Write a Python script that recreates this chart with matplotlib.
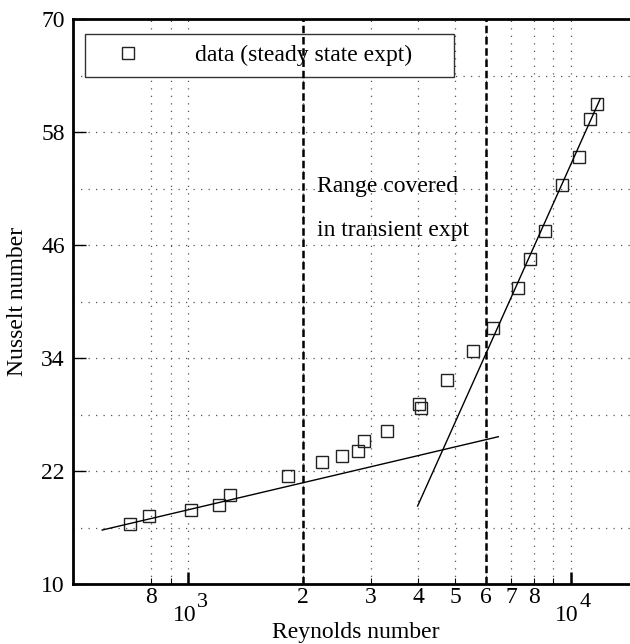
import numpy as np
import matplotlib
matplotlib.use("Agg")
import matplotlib.pyplot as plt

plt.rcParams['font.family'] = ['Liberation Serif', 'DejaVu Serif']

# ---- data ----
re_data = [703, 790, 1017, 1202, 1284, 1829, 2236, 2518, 2773, 2875, 3303,
           4012, 4055, 4759, 5567, 6281, 7302, 7850, 8578, 9517, 10527,
           11271, 11733]
nu_data = [16.4, 17.25, 17.9, 18.4, 19.4, 21.5, 23.0, 23.56, 24.1, 25.15, 26.3,
           29.1, 28.65, 31.7, 34.7, 37.2, 41.46, 44.5, 47.5, 52.4, 55.3,
           59.4, 61.0]

# correlation lines (end points)
fit_low_re = [596, 6471]
fit_low_nu = [15.73, 25.64]
fit_high_re = [3981, 11946]
fit_high_nu = [18.28, 61.5]

# transient experiment range
range_re = [2000, 6000]

x_minor_ticks = [800, 900, 2000, 3000, 4000, 5000, 6000, 7000, 8000, 9000]
x_minor_labels = ['8', '', '2', '3', '4', '5', '6', '7', '8', '']
x_major_ticks = [1000, 10000]
x_major_exps = ['3', '4']
y_major_ticks = [10, 22, 34, 46, 58, 70]
y_minor_ticks = [16, 28, 40, 52, 64]

FS = 17

fig = plt.figure(figsize=(6.30, 6.44), dpi=100)
ax = fig.add_axes([73/630, 60/644, (630-73)/630, (584-19)/644])
ax.set_xscale('log')
ax.set_xlim(500, 14300)
ax.set_ylim(10, 70)

# grid
gkw = dict(color='#555555', lw=0.9, dashes=(1, 5))
for xv in x_minor_ticks + x_major_ticks:
    ax.axvline(xv, zorder=1, **gkw)
for yv in y_minor_ticks + y_major_ticks[1:-1]:
    ax.axhline(yv, zorder=1, **gkw)

# ticks
ax.set_xticks(x_major_ticks)
ax.set_xticklabels(['' for _ in x_major_ticks])
ax.set_xticks(x_minor_ticks, minor=True)
ax.set_xticklabels(x_minor_labels, minor=True, fontsize=FS)
ax.set_yticks(y_major_ticks)
ax.set_yticklabels([str(v) for v in y_major_ticks], fontsize=FS)
ax.set_yticks([], minor=True)
ax.tick_params(axis='x', which='major', direction='in', length=9, width=1.8, pad=12)
ax.tick_params(axis='x', which='minor', direction='in', length=4, width=0.8, pad=2)
ax.tick_params(axis='y', which='major', direction='in', length=9, width=1.0, pad=6)

# decade labels with MATLAB-like large superscripts
for xv, ex in zip(x_major_ticks, x_major_exps):
    ax.annotate('10', xy=(xv, 23/644), xycoords=('data', 'figure fraction'),
                xytext=(8, 0), textcoords='offset pixels', ha='right', va='baseline',
                fontsize=FS, annotation_clip=False)
    ax.annotate(ex, xy=(xv, 37/644), xycoords=('data', 'figure fraction'),
                xytext=(9, 0), textcoords='offset pixels', ha='left', va='baseline',
                fontsize=FS - 1, annotation_clip=False)

for s in ['left', 'bottom', 'top']:
    ax.spines[s].set_linewidth(2.0)
ax.spines['right'].set_visible(False)

# data
ax.plot(re_data, nu_data, linestyle='none', marker='s', markersize=8.5,
        markerfacecolor='none', markeredgecolor='#222222', markeredgewidth=1.0,
        zorder=3, label='data (steady state expt)')
ax.plot(fit_low_re, fit_low_nu, color='black', lw=1.0, zorder=3)
ax.plot(fit_high_re, fit_high_nu, color='black', lw=1.0, zorder=3)

for xv in range_re:
    ax.axvline(xv, color='black', lw=1.8, dashes=(3, 1.5), zorder=7)

ax.text(2170, 51.66, 'Range covered', fontsize=FS, va='baseline', ha='left', zorder=6)
ax.text(2170, 46.95, 'in transient expt', fontsize=FS, va='baseline', ha='left', zorder=6)

# legend
W = 630 - 73
H = 584 - 19
leg = ax.legend(loc='upper left', bbox_to_anchor=((85-73)/W, (584-79)/H, (454-85)/W, (79-34)/H),
                mode='expand', borderaxespad=0, fontsize=FS, handlelength=2.7,
                handletextpad=1.5, borderpad=0.45, fancybox=False, framealpha=1,
                edgecolor='#333333')
leg.get_frame().set_linewidth(1.0)
leg.set_zorder(5)

fig.text(356/630, 1 - 638/644, 'Reynolds number', fontsize=FS, ha='center', va='baseline')
fig.text(18/630, 1 - 301/644, 'Nusselt number', fontsize=FS, ha='center', va='center', rotation=90)

fig.savefig('out.png', dpi=100)
